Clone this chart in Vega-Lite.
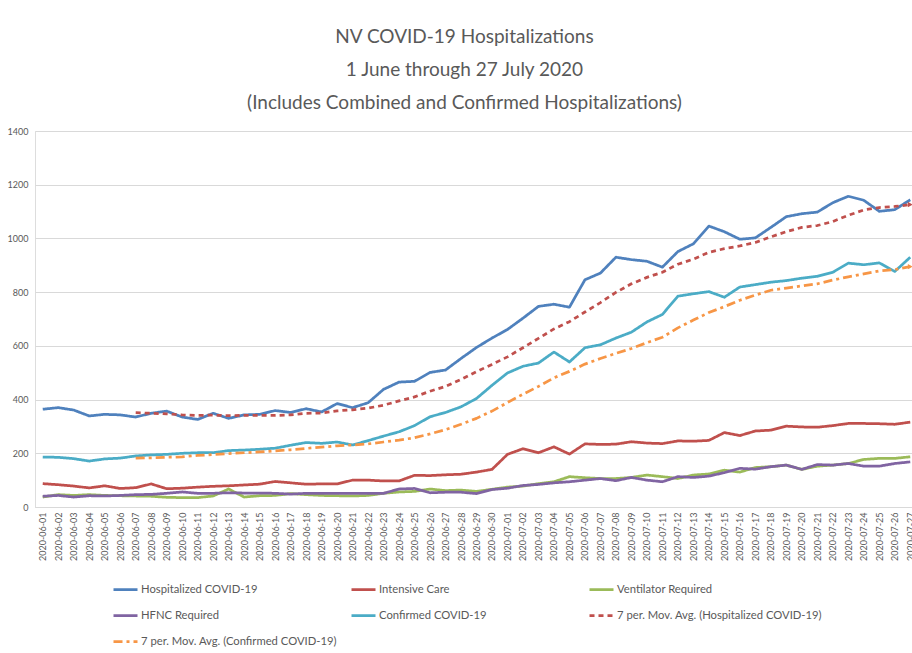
{
  "$schema": "https://vega.github.io/schema/vega-lite/v6.json",
  "width": 883,
  "height": 376,
  "autosize": "none",
  "padding": {"left": 35, "top": 131, "right": 0, "bottom": 146},
  "background": "white",
  "title": {
    "text": ["NV COVID-19 Hospitalizations", "1 June through 27 July 2020", "(Includes Combined and Confirmed Hospitalizations)"],
    "font": "Lato",
    "fontSize": 19,
    "fontWeight": "normal",
    "color": "#595959",
    "lineHeight": 33,
    "offset": 14,
    "dx": -12,
    "anchor": "middle"
  },
  "data": {"values": [
    {"d":"2020-06-01","h":364,"icu":87,"vent":37,"hfnc":40,"conf":186,"mah":null,"mac":null},
    {"d":"2020-06-02","h":370,"icu":83,"vent":46,"hfnc":43,"conf":185,"mah":null,"mac":null},
    {"d":"2020-06-03","h":361,"icu":78,"vent":43,"hfnc":37,"conf":180,"mah":null,"mac":null},
    {"d":"2020-06-04","h":339,"icu":71,"vent":46,"hfnc":42,"conf":171,"mah":null,"mac":null},
    {"d":"2020-06-05","h":345,"icu":79,"vent":43,"hfnc":41,"conf":179,"mah":null,"mac":null},
    {"d":"2020-06-06","h":343,"icu":69,"vent":42,"hfnc":43,"conf":182,"mah":null,"mac":null},
    {"d":"2020-06-07","h":335,"icu":72,"vent":41,"hfnc":46,"conf":190,"mah":351,"mac":182},
    {"d":"2020-06-08","h":349,"icu":86,"vent":40,"hfnc":47,"conf":194,"mah":349,"mac":183},
    {"d":"2020-06-09","h":357,"icu":68,"vent":36,"hfnc":51,"conf":196,"mah":347,"mac":185},
    {"d":"2020-06-10","h":335,"icu":70,"vent":35,"hfnc":56,"conf":200,"mah":343,"mac":187},
    {"d":"2020-06-11","h":326,"icu":74,"vent":35,"hfnc":51,"conf":202,"mah":341,"mac":192},
    {"d":"2020-06-12","h":349,"icu":77,"vent":41,"hfnc":51,"conf":202,"mah":342,"mac":195},
    {"d":"2020-06-13","h":330,"icu":79,"vent":67,"hfnc":53,"conf":210,"mah":340,"mac":199},
    {"d":"2020-06-14","h":343,"icu":82,"vent":37,"hfnc":52,"conf":212,"mah":341,"mac":202},
    {"d":"2020-06-15","h":345,"icu":85,"vent":42,"hfnc":52,"conf":215,"mah":341,"mac":205},
    {"d":"2020-06-16","h":359,"icu":95,"vent":43,"hfnc":51,"conf":219,"mah":341,"mac":209},
    {"d":"2020-06-17","h":352,"icu":90,"vent":50,"hfnc":48,"conf":230,"mah":343,"mac":213},
    {"d":"2020-06-18","h":366,"icu":85,"vent":46,"hfnc":51,"conf":240,"mah":349,"mac":218},
    {"d":"2020-06-19","h":354,"icu":86,"vent":43,"hfnc":51,"conf":237,"mah":350,"mac":223},
    {"d":"2020-06-20","h":385,"icu":86,"vent":42,"hfnc":51,"conf":242,"mah":358,"mac":228},
    {"d":"2020-06-21","h":370,"icu":100,"vent":41,"hfnc":51,"conf":231,"mah":362,"mac":231},
    {"d":"2020-06-22","h":388,"icu":100,"vent":43,"hfnc":51,"conf":247,"mah":368,"mac":235},
    {"d":"2020-06-23","h":438,"icu":97,"vent":51,"hfnc":51,"conf":264,"mah":379,"mac":242},
    {"d":"2020-06-24","h":465,"icu":97,"vent":56,"hfnc":67,"conf":280,"mah":395,"mac":249},
    {"d":"2020-06-25","h":468,"icu":118,"vent":58,"hfnc":69,"conf":303,"mah":410,"mac":258},
    {"d":"2020-06-26","h":501,"icu":117,"vent":67,"hfnc":53,"conf":336,"mah":431,"mac":272},
    {"d":"2020-06-27","h":510,"icu":120,"vent":61,"hfnc":55,"conf":352,"mah":449,"mac":288},
    {"d":"2020-06-28","h":553,"icu":122,"vent":63,"hfnc":55,"conf":373,"mah":475,"mac":308},
    {"d":"2020-06-29","h":594,"icu":130,"vent":58,"hfnc":50,"conf":404,"mah":504,"mac":330},
    {"d":"2020-06-30","h":629,"icu":140,"vent":66,"hfnc":65,"conf":453,"mah":531,"mac":357},
    {"d":"2020-07-01","h":661,"icu":196,"vent":74,"hfnc":70,"conf":499,"mah":559,"mac":389},
    {"d":"2020-07-02","h":703,"icu":217,"vent":78,"hfnc":80,"conf":524,"mah":593,"mac":420},
    {"d":"2020-07-03","h":747,"icu":202,"vent":87,"hfnc":84,"conf":536,"mah":628,"mac":449},
    {"d":"2020-07-04","h":755,"icu":224,"vent":94,"hfnc":90,"conf":577,"mah":663,"mac":481},
    {"d":"2020-07-05","h":744,"icu":197,"vent":113,"hfnc":94,"conf":540,"mah":690,"mac":505},
    {"d":"2020-07-06","h":846,"icu":235,"vent":109,"hfnc":100,"conf":593,"mah":726,"mac":532},
    {"d":"2020-07-07","h":871,"icu":233,"vent":106,"hfnc":106,"conf":604,"mah":761,"mac":553},
    {"d":"2020-07-08","h":930,"icu":234,"vent":106,"hfnc":98,"conf":629,"mah":799,"mac":572},
    {"d":"2020-07-09","h":921,"icu":243,"vent":110,"hfnc":110,"conf":651,"mah":831,"mac":590},
    {"d":"2020-07-10","h":915,"icu":238,"vent":119,"hfnc":100,"conf":689,"mah":855,"mac":612},
    {"d":"2020-07-11","h":893,"icu":236,"vent":113,"hfnc":94,"conf":717,"mah":874,"mac":632},
    {"d":"2020-07-12","h":951,"icu":246,"vent":106,"hfnc":113,"conf":785,"mah":904,"mac":667},
    {"d":"2020-07-13","h":980,"icu":245,"vent":119,"hfnc":110,"conf":794,"mah":923,"mac":696},
    {"d":"2020-07-14","h":1046,"icu":248,"vent":123,"hfnc":115,"conf":802,"mah":948,"mac":724},
    {"d":"2020-07-15","h":1025,"icu":277,"vent":137,"hfnc":128,"conf":781,"mah":962,"mac":746},
    {"d":"2020-07-16","h":997,"icu":266,"vent":130,"hfnc":144,"conf":819,"mah":972,"mac":770},
    {"d":"2020-07-17","h":1002,"icu":283,"vent":147,"hfnc":141,"conf":828,"mah":985,"mac":789},
    {"d":"2020-07-18","h":1041,"icu":286,"vent":150,"hfnc":150,"conf":837,"mah":1006,"mac":807},
    {"d":"2020-07-19","h":1081,"icu":301,"vent":156,"hfnc":156,"conf":843,"mah":1025,"mac":815},
    {"d":"2020-07-20","h":1092,"icu":298,"vent":140,"hfnc":140,"conf":852,"mah":1041,"mac":823},
    {"d":"2020-07-21","h":1098,"icu":297,"vent":152,"hfnc":158,"conf":859,"mah":1048,"mac":831},
    {"d":"2020-07-22","h":1133,"icu":303,"vent":156,"hfnc":156,"conf":874,"mah":1063,"mac":845},
    {"d":"2020-07-23","h":1157,"icu":311,"vent":162,"hfnc":162,"conf":908,"mah":1086,"mac":857},
    {"d":"2020-07-24","h":1142,"icu":311,"vent":177,"hfnc":152,"conf":902,"mah":1106,"mac":868},
    {"d":"2020-07-25","h":1101,"icu":310,"vent":181,"hfnc":152,"conf":909,"mah":1115,"mac":879},
    {"d":"2020-07-26","h":1107,"icu":308,"vent":181,"hfnc":162,"conf":877,"mah":1119,"mac":884},
    {"d":"2020-07-27","h":1144,"icu":316,"vent":187,"hfnc":168,"conf":930,"mah":1126,"mac":895}
  ]},
  "transform": [
    {"fold": ["h", "icu", "vent", "hfnc", "conf", "mah", "mac"], "as": ["series", "value"]}
  ],
  "encoding": {
    "x": {
      "field": "d",
      "type": "ordinal",
      "scale": {"type": "point", "padding": 0.5},
      "axis": {
        "title": null,
        "labelAngle": -90,
        "labelFont": "Lato",
        "labelFontSize": 9,
        "labelColor": "#595959",
        "labelPadding": 5,
        "labelOverlap": false,
        "ticks": false,
        "grid": false,
        "domainColor": "#d9d9d9",
        "domainWidth": 1
      }
    },
    "y": {
      "field": "value",
      "type": "quantitative",
      "scale": {"domain": [0, 1400], "nice": false},
      "axis": {
        "title": null,
        "values": [0, 200, 400, 600, 800, 1000, 1200, 1400],
        "format": "d",
        "labelFont": "Lato",
        "labelFontSize": 9,
        "labelColor": "#595959",
        "labelPadding": 7,
        "ticks": false,
        "domain": false,
        "gridColor": "#d9d9d9",
        "gridWidth": 1
      }
    }
  },
  "layer": [
    {
      "mark": {"type": "line", "strokeJoin": "round", "strokeCap": "butt"},
      "encoding": {
        "color": {
          "field": "series",
          "type": "nominal",
          "scale": {
            "domain": ["h", "icu", "vent", "hfnc", "conf", "mah", "mac"],
            "range": ["#4F81BD", "#C0504D", "#9BBB59", "#8064A2", "#4BACC6", "#C0504D", "#F79646"]
          },
          "legend": {
            "title": null,
            "orient": "none",
            "direction": "horizontal",
            "legendX": 77,
            "legendY": 445,
            "columns": 3,
            "gridAlign": "all",
            "columnPadding": 0,
            "rowPadding": 7,
            "symbolType": "stroke",
            "symbolSize": 576,
            "symbolStrokeWidth": 2.5,
            "labelFont": "Lato",
            "labelFontSize": 11.25,
            "labelColor": "#595959",
            "labelOffset": 2,
            "labelLimit": 400,
            "labelExpr": "datum.value == 'h' ? 'Hospitalized COVID-19' : datum.value == 'icu' ? 'Intensive Care' : datum.value == 'vent' ? 'Ventilator Required' : datum.value == 'hfnc' ? 'HFNC Required' : datum.value == 'conf' ? 'Confirmed COVID-19' : datum.value == 'mah' ? '7 per. Mov. Avg. (Hospitalized COVID-19)' : '7 per. Mov. Avg. (Confirmed COVID-19)'",
            "symbolDash": [1, 0],
            "encode": {
              "symbols": {
                "update": {
                  "strokeDash": {"signal": "datum.value == 'mah' ? [4, 3] : datum.value == 'mac' ? [6, 3, 2, 3] : [1, 0]"}
                }
              }
            }
          }
        },
        "strokeDash": {
          "field": "series",
          "type": "nominal",
          "scale": {
            "domain": ["h", "icu", "vent", "hfnc", "conf", "mah", "mac"],
            "range": [[1, 0], [1, 0], [1, 0], [1, 0], [1, 0], [5, 4], [9, 4, 3, 4]]
          },
          "legend": null
        },
        "strokeWidth": {
          "field": "series",
          "type": "nominal",
          "scale": {
            "domain": ["h", "icu", "vent", "hfnc", "conf", "mah", "mac"],
            "range": [2.75, 2.75, 2.75, 2.75, 2.75, 2.25, 2.25]
          },
          "legend": null
        }
      }
    },
    {
      "transform": [
        {"filter": "datum.d == '2020-07-27' && (datum.series == 'mah' || datum.series == 'mac')"}
      ],
      "mark": {"type": "point", "shape": "triangle-right", "filled": true, "size": 30, "opacity": 1},
      "encoding": {
        "color": {"field": "series", "type": "nominal", "legend": null}
      }
    }
  ]
}
